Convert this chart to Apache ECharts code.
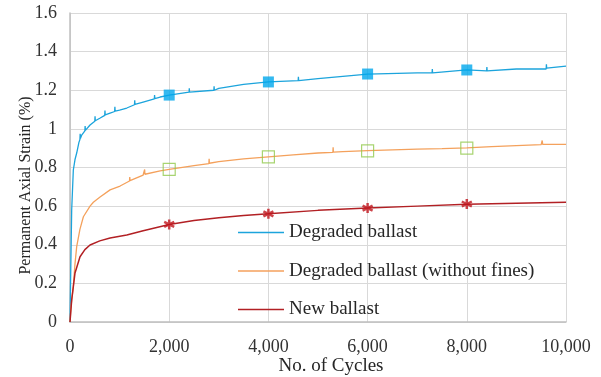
<!DOCTYPE html>
<html><head><meta charset="utf-8">
<script src="https://cdn.jsdelivr.net/npm/echarts@6/dist/echarts.min.js"></script>
<style>html,body{margin:0;padding:0;background:#fff}#c{width:601px;height:377px}</style>
</head><body><div id="c"></div>
<script>
const seriesNames = ['Degraded ballast', 'Degraded ballast (without fines)', 'New ballast'];
const xTicks = [0, 2000, 4000, 6000, 8000, 10000];
const yTicks = [0, 0.2, 0.4, 0.6, 0.8, 1, 1.2, 1.4, 1.6];

const degradedBallast = [[0,0],[10,0.18],[34,0.58],[67,0.787],[100,0.84],[135,0.875],[180,0.93],[200,0.945],[205,0.975],[210,0.95],[236,0.968],[300,0.99],[305,1.015],[310,0.992],[404,1.02],[500,1.04],[505,1.065],[510,1.042],[600,1.055],[700,1.07],[705,1.095],[710,1.072],[808,1.082],[900,1.09],[905,1.115],[910,1.092],[1000,1.097],[1145,1.108],[1300,1.125],[1305,1.148],[1310,1.127],[1475,1.139],[1700,1.155],[1705,1.175],[1710,1.157],[1818,1.165],[2000,1.175],[2400,1.19],[2405,1.21],[2410,1.19],[2900,1.20],[2905,1.22],[2910,1.20],[3000,1.21],[3500,1.23],[4000,1.243],[4600,1.25],[4605,1.27],[4610,1.25],[5000,1.26],[6000,1.284],[7000,1.29],[7300,1.29],[7305,1.31],[7310,1.29],[8000,1.305],[8400,1.30],[8405,1.32],[8410,1.30],[9000,1.31],[9600,1.31],[9605,1.335],[9610,1.315],[10000,1.325]];
const degradedNoFines = [[0,0],[20,0.08],[67,0.183],[100,0.3],[135,0.39],[200,0.48],[270,0.545],[404,0.6],[471,0.62],[606,0.647],[808,0.684],[1010,0.704],[1200,0.73],[1205,0.75],[1210,0.732],[1475,0.761],[1500,0.763],[1505,0.79],[1510,0.765],[1818,0.782],[2000,0.79],[2500,0.81],[2800,0.82],[2805,0.845],[2810,0.822],[3000,0.83],[3500,0.845],[4000,0.855],[4500,0.865],[5000,0.875],[5300,0.878],[5305,0.905],[5310,0.88],[5500,0.882],[6000,0.887],[6500,0.891],[7000,0.895],[7500,0.898],[8000,0.902],[8500,0.908],[9000,0.913],[9500,0.918],[9520,0.94],[9530,0.92],[10000,0.92]];
const newBallast = [[0,0],[34,0.114],[101,0.254],[202,0.338],[300,0.375],[404,0.399],[600,0.42],[808,0.435],[1145,0.45],[1475,0.473],[2000,0.505],[2500,0.525],[3000,0.54],[3500,0.552],[4000,0.56],[5000,0.578],[6000,0.59],[7000,0.6],[8000,0.61],[9000,0.615],[10000,0.62]];

const markerX = [2000, 4000, 6000, 8000];
const degradedMarkers = [1.175, 1.243, 1.284, 1.305];
const noFinesMarkers = [0.79, 0.855, 0.886, 0.90];
const newMarkers = [0.505, 0.56, 0.59, 0.611];

const colors = ['#1CA4DC', '#F4A15C', '#B22024'];
const font = 'Liberation Serif';
const pair = (xs, ys) => xs.map((x, i) => [x, ys[i]]);
const starPath = 'path://M0,-10 L0,10 M-8.66,-5 L8.66,5 M-8.66,5 L8.66,-5';

const chart = echarts.init(document.getElementById('c'));
chart.setOption({
  animation: false,
  grid: { left: 70, right: 35, top: 13, bottom: 55, containLabel: false, outerBoundsMode: 'none' },
  xAxis: {
    type: 'value', min: 0, max: 10000, interval: 2000,
    name: 'No. of Cycles', nameLocation: 'middle', nameGap: 35, nameMoveOverlap: false,
    nameTextStyle: { fontFamily: font, fontSize: 19, color: '#262626', padding: [0, 0, 0, 26] },
    axisLine: { show: true, lineStyle: { color: '#bfbfbf', width: 1.5 } },
    axisTick: { show: false },
    splitLine: { show: true, lineStyle: { color: '#d9d9d9' } },
    axisLabel: { fontFamily: font, fontSize: 18, color: '#333', margin: 16,
      formatter: v => v.toLocaleString('en-US') }
  },
  yAxis: {
    type: 'value', min: 0, max: 1.6, interval: 0.2,
    name: 'Permanent Axial Strain (%)', nameLocation: 'middle', nameGap: 36, nameMoveOverlap: false,
    nameTextStyle: { fontFamily: font, fontSize: 16, color: '#262626', padding: [0, 36, 0, 0] },
    axisLine: { show: true, lineStyle: { color: '#bfbfbf', width: 1.5 } },
    axisTick: { show: false },
    splitLine: { show: true, lineStyle: { color: '#d9d9d9' } },
    axisLabel: { fontFamily: font, fontSize: 18, color: '#333', margin: 13,
      formatter: v => String(Math.round(v * 10) / 10) }
  },
  legend: {
    orient: 'vertical', left: 233, top: 218, itemGap: 19.5,
    icon: 'rect', itemWidth: 46, itemHeight: 1.5,
    textStyle: { fontFamily: font, fontSize: 19, color: '#262626' },
    data: seriesNames
  },
  series: [
    { name: seriesNames[0], type: 'line', data: degradedBallast, showSymbol: false, lineStyle: { color: colors[0], width: 1.3 }, itemStyle: { color: colors[0] }, z: 3 },
    { name: seriesNames[1], type: 'line', data: degradedNoFines, showSymbol: false, lineStyle: { color: colors[1], width: 1.3 }, itemStyle: { color: colors[1] }, z: 3 },
    { name: seriesNames[2], type: 'line', data: newBallast, showSymbol: false, lineStyle: { color: colors[2], width: 1.5 }, itemStyle: { color: colors[2] }, z: 3 },
    { type: 'scatter', data: pair(markerX, degradedMarkers), symbol: 'rect', symbolSize: 11, itemStyle: { color: '#00A8EC' }, z: 5 },
    { type: 'scatter', data: pair(markerX, noFinesMarkers), symbol: 'rect', symbolSize: 12, itemStyle: { color: 'rgba(255,255,255,0)', borderColor: '#92C94E', borderWidth: 1.2 }, z: 5 },
    { type: 'scatter', data: pair(markerX, newMarkers), symbol: starPath, symbolSize: 10, itemStyle: { color: 'rgba(0,0,0,0)', borderColor: '#C0141C', borderWidth: 2.5 }, z: 5 }
  ]
});
</script></body></html>
